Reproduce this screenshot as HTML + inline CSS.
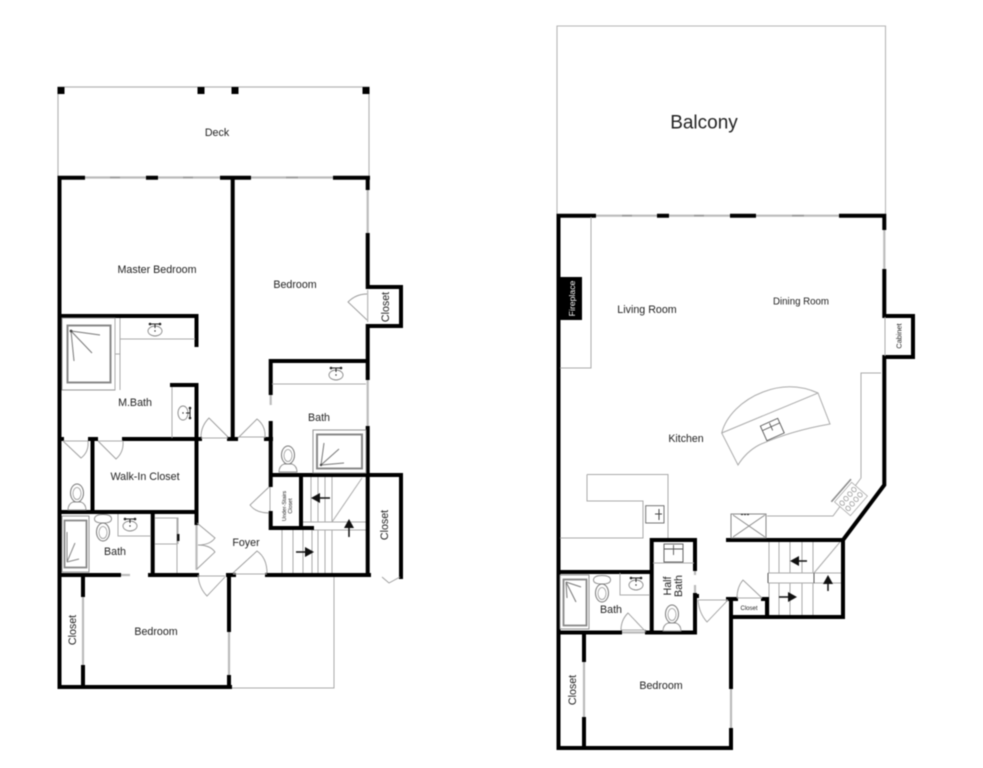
<!DOCTYPE html>
<html>
<head>
<meta charset="utf-8">
<style>
html,body{margin:0;padding:0;background:#fff;width:983px;height:768px;overflow:hidden}
svg{display:block;filter:blur(.5px)}
text{font-family:"Liberation Sans",sans-serif;fill:#222;text-anchor:middle;dominant-baseline:central}
.w{stroke:#000;stroke-width:4;fill:none;stroke-linecap:square}
.g{stroke:#aaa;stroke-width:1;fill:none}
.gw{stroke:#bbb;stroke-width:2.2;fill:none}
.d{stroke:#999;stroke-width:.9;fill:none}
.a{stroke:#111;stroke-width:1.5;fill:none}
.f{stroke:#888;stroke-width:.9;fill:#fff}
</style>
</head>
<body>
<svg width="983" height="768" viewBox="0 0 983 768" xmlns="http://www.w3.org/2000/svg">
<defs>
<g id="sink"><ellipse cx="0" cy="0" rx="7" ry="5" class="f"/><circle cx="0" cy="0" r=".7" fill="#222"/><path d="M-5 -7H5M0 -7V-3" stroke="#222" stroke-width="1"/><circle cx="-5" cy="-7" r="1.3" fill="#222"/><circle cx="5" cy="-7" r="1.3" fill="#222"/></g>
<g id="toiletU"><ellipse cx="0" cy="-4" rx="6.500" ry="9" fill="#fff" stroke="#777" stroke-width="1"/><ellipse cx="0" cy="-3.500" rx="4" ry="6" fill="none" stroke="#999" stroke-width=".8"/><path d="M-9 13Q-9 7 -4 5H4Q9 7 9 13Z" fill="#fff" stroke="#888" stroke-width=".9"/></g>
<g id="toiletD"><path d="M-8.500 -11Q-8.500 -15.500 0 -15.500Q8.500 -15.500 8.500 -11Q8.500 -7 0 -7Q-8.500 -7 -8.500 -11Z" fill="#fff" stroke="#888" stroke-width=".9"/><ellipse cx="0" cy="2" rx="6.500" ry="9" fill="#fff" stroke="#777" stroke-width="1"/><ellipse cx="0" cy="2.500" rx="4" ry="6" fill="none" stroke="#999" stroke-width=".8"/></g>
</defs>

<!-- LEFT PLAN: deck -->
<path d="M58 177V87H369V177" stroke="#b5b5b5" stroke-width="1.2" fill="none"/>
<rect x="57.500" y="87" width="7" height="7"/><rect x="197.500" y="87" width="7" height="7"/><rect x="231.500" y="87" width="7" height="7"/><rect x="362.500" y="87" width="7" height="7"/>
<!-- sliding doors -->
<path d="M83 177.500H148M156 177.500H220M249 177.500H335" class="gw"/>
<path d="M110 177.500H120M183 177.500H193M286 177.500H298" stroke="#999" stroke-width="1.600"/>
<!-- windows -->
<path d="M367.700 188V235M229 630V677M196.500 523V570M83 595V667M120 575H130M270.700 393V405M367.700 378V428" class="gw"/>
<path class="g" d="M367.700 290V322M270 485V513"/>
<!-- stairs left -->
<path d="M302 476V522M311 476V522M318 476V522M325 476V522M332 476V522M282 530V574M293 530V574M303 530V574M312 530V574M318 530V574M325 530V574M332 530V574M302 522H367M313 530H367M332 522L362 478" class="g"/>
<!-- porch outline -->
<path d="M231 688H334V575" class="g"/>
<!-- walls -->
<path class="w" d="M59.500 177.700H83M148 177.700H156M222 177.700H249M335 177.700H368M59.500 177.700V687M232.700 177.700V439M367.700 177.700V188M367.700 235V287M367.700 326V378M367.700 428V475M367.700 475V575M367.700 287H401V326H367.700"/>
<path class="w" d="M59.500 316H196.500V345M172 385H196.500V523M59.500 439H62M90 439H96M124 439H200M229 439H236M266 439H271M92.500 439V512M59.500 512H196.500M59.500 575H119M150 575H197M152.700 512V575M229 575V630M229 677V687M59.500 687H230M267 575H369M83 575V595M83 667V687M228 575H234"/>
<path class="w" d="M270.700 361H367M270.700 361V393M270.700 423V475M271 475H401M401 475V577M270.700 513V528M270.700 475V485M301 475V528M271 528H312"/>
<!-- left doors -->
<path class="d" d="M63 441L81 458Q89 452 88 441M98 441L116 459Q124 452 123 441M201 437Q201 426 209 418L228 437M238 438L257 419Q266 426 265 438M367 320L348 302Q356 294 367 294M269 487L250 505Q256 513 269 513M233 573L257 551Q267 558 267 573M198 575Q199 588 207 596L225 577M197 523L215 538Q210 545 198 545Q210 545 215 552L197 569M382 577L389 583L400 577"/>
<path class="g" d="M63 441H88M98 441H123M201 438H228M238 437H265M233 574H267M199 576H225"/>
<!-- left fixtures -->
<rect x="62" y="318" width="53" height="72" class="f"/>
<rect x="67.500" y="325.500" width="43" height="57" fill="none" stroke="#888" stroke-width="2"/>
<path d="M71 331L100 335M71 331L92 353M71 331L74 361" stroke="#777" stroke-width="1" fill="none"/><circle cx="71" cy="331" r="1.400" fill="#444"/>
<path class="g" d="M115 318V390M120 318V390M120 339H195M115 354H120M172 387V438"/>
<use href="#sink" x="155" y="331"/>
<use href="#sink" transform="translate(183,413) rotate(90)"/>
<use href="#sink" x="336" y="375"/>
<path class="g" d="M272 384H366"/>
<rect x="313" y="430" width="53" height="43" class="f"/>
<rect x="317" y="434.500" width="45" height="34" fill="none" stroke="#888" stroke-width="2"/>
<path d="M321 465L344 463M321 465L339 449M321 465L324 443" stroke="#777" stroke-width="1" fill="none"/><circle cx="321" cy="465" r="1.200" fill="#444"/>
<use href="#toiletU" x="288" y="459"/>
<use href="#toiletU" x="77" y="497"/>
<rect x="62" y="516" width="27" height="56" class="f"/>
<rect x="64.500" y="520.500" width="22" height="47" fill="none" stroke="#888" stroke-width="1.800"/>
<path d="M67 562L79 559M67 562L75 543M67 562L67 532" stroke="#888" stroke-width="1" fill="none"/>
<use href="#toiletD" x="103" y="530"/>
<path class="g" d="M118 514V536H151"/>
<use href="#sink" x="130" y="526"/>
<path class="g" d="M155 518H178V544M177 518V573M155 544H177"/><rect x="177" y="534" width="2.500" height="7" fill="#111"/>
<!-- left arrows -->
<path class="a" d="M318 498H330"/><path d="M311 498L320 493V503Z" fill="#111"/>
<path class="a" d="M349 527V537"/><path d="M349 519L344 528H354Z" fill="#111"/>
<path class="a" d="M296 552H308"/><path d="M314 552L305 547V557Z" fill="#111"/>

<!-- left labels -->
<text x="217" y="132" dy="1" font-size="10.700">Deck</text>
<text x="157" y="269" dy="1" font-size="10.700">Master Bedroom</text>
<text x="295" y="284" dy="1" font-size="10.700">Bedroom</text>
<text transform="translate(385,307) rotate(-90)" dy="1" font-size="10.700">Closet</text>
<text x="135" y="402" dy="1" font-size="10.700">M.Bath</text>
<text x="145" y="476" dy="1" font-size="10.700">Walk-In Closet</text>
<text x="319" y="417" dy="1" font-size="10.700">Bath</text>
<text transform="translate(284,506) rotate(-90)" dy="1" font-size="5.400">Under-Stairs</text>
<text transform="translate(290,506) rotate(-90)" dy="1" font-size="5.400">Closet</text>
<text x="246" y="542" dy="1" font-size="10.700">Foyer</text>
<text transform="translate(384,525) rotate(-90)" dy="1" font-size="10.700">Closet</text>
<text x="115" y="551" dy="1" font-size="10.700">Bath</text>
<text transform="translate(72,630) rotate(-90)" dy="1" font-size="10.700">Closet</text>
<text x="156" y="631" dy="1" font-size="10.700">Bedroom</text>

<!-- RIGHT PLAN -->
<path d="M557 215V26H885.500V215" stroke="#b5b5b5" stroke-width="1.100" fill="none"/>
<path d="M594 215.700H659M667 215.700H732M754 215.700H841" class="gw"/>
<path d="M622 215.700H632M694 215.700H704M792 215.700H804" stroke="#999" stroke-width="1.600"/>
<path d="M884.300 228V271M731 687V730M584 660V719M620 632.500H647M695 569V575M695 585V593" class="gw"/>
<!-- stairs -->
<path class="g" d="M769 541V573M779 541V573M790 541V573M802 541V573M813 541V573M769 583V615M779 583V615M790 583V615M802 583V615M813 583V615M768 573H841M768 583H841M814 573L840 542"/>
<path d="M768 573V583M814 573V583" stroke="#555" stroke-width="1"/>
<!-- walls -->
<path class="w" d="M558.500 215.700H594M659 215.700H667M732 215.700H754M841 215.700H884.300V228M884.300 271V316M884.300 357V485L843 540M728 540H843M843 540V617M731 617H843M731 600V687M731 730V748M558.500 748H731M558.500 215.700V748M558.500 572H651.700M651.700 540V632.500M651.700 540H695V569M695 595V632.500M558.500 632.500H620M647 632.500H695M584 632.500V660M584 719V748M884.300 316H913V357H884.300M728 599H736M763 599H767V617"/>
<path class="w" d="M695 596H697"/>
<!-- fireplace -->
<rect x="560" y="277" width="22" height="43" fill="#000"/>
<text transform="translate(571,298.500) rotate(-90)" dy="1" font-size="8.700" style="fill:#fff">Fireplace</text>
<path class="g" d="M591 217V368H560"/>
<path class="g" d="M885 317V356"/>
<!-- kitchen -->
<path class="g" d="M587 474.500H668V538M587 474.500V501H643V538H560"/>
<rect x="645.700" y="505.700" width="18.300" height="17.300" fill="#fff" stroke="#666" stroke-width=".9"/>
<path d="M655 514H662M659 509V520" stroke="#444" stroke-width="1"/>
<path class="g" d="M721.700 433L818 393L830 424Q790 431 759 445Q746 452 738 465L721.700 433C726 416 742 400 763 392C781 385 800 385 818 393"/>
<g transform="translate(772.300,429.500) rotate(-24)"><rect x="-9.500" y="-8" width="19" height="16" fill="#fff" stroke="#555" stroke-width=".9"/><path d="M-9.500 -3H9.500M0 -7V1" stroke="#555" stroke-width=".9"/></g>
<path class="g" d="M881 373H861V478L833 516H767"/>
<g transform="translate(851,499) rotate(41)"><rect x="-10.500" y="-13" width="21" height="26" fill="#fff" stroke="#aaa" stroke-width=".8"/><path d="M-13 -15V15" stroke="#888" stroke-width="1.500"/><g fill="none" stroke="#999" stroke-width=".8"><ellipse cx="-4" cy="-9" rx="2.500" ry="2"/><ellipse cx="4" cy="-9" rx="2.500" ry="2"/><ellipse cx="-4" cy="-3" rx="2.500" ry="2"/><ellipse cx="4" cy="-3" rx="2.500" ry="2"/><ellipse cx="-4" cy="3" rx="2.500" ry="2"/><ellipse cx="4" cy="3" rx="2.500" ry="2"/><ellipse cx="-4" cy="9" rx="2.500" ry="2"/><ellipse cx="4" cy="9" rx="2.500" ry="2"/></g></g>
<rect x="731" y="514" width="35" height="24" fill="#fff" stroke="#888" stroke-width="1"/>
<path d="M733 515L765 537M765 515L733 537" stroke="#888" stroke-width=".9"/>
<path d="M741 514.500H749" stroke="#333" stroke-width="1.200" stroke-dasharray="2 1"/>
<!-- right doors -->
<path class="d" d="M698 600Q699 613 707 622L728 600M737 598Q737 587 743 580L762 598M621 630Q621 620 628 613L646 632"/>
<path class="g" d="M698 600H728M737 598H762M621 630H646"/>
<!-- baths -->
<rect x="560" y="575" width="29" height="54" class="f"/>
<rect x="563.500" y="579.500" width="23" height="46" fill="none" stroke="#888" stroke-width="1.800"/>
<path d="M566 582L581 587M566 582L576 602M566 582L567 598" stroke="#777" stroke-width="1" fill="none"/>
<use href="#toiletD" x="602" y="591"/>
<path class="g" d="M620 573V595H650"/>
<use href="#sink" x="636" y="585"/>
<path class="g" d="M653 563H694"/>
<rect x="664" y="544" width="19" height="18" fill="#fff" stroke="#555" stroke-width=".9"/>
<path d="M664 549H683M673.500 545V555" stroke="#555" stroke-width=".9"/>
<use href="#toiletU" x="672" y="618"/>
<!-- arrows -->
<path class="a" d="M797 561H807"/><path d="M790 561L799 556V566Z" fill="#111"/>
<path class="a" d="M828 584V591"/><path d="M828 575L823 584H833Z" fill="#111"/>
<path class="a" d="M779 597H790"/><path d="M797 597L788 592V602Z" fill="#111"/>

<!-- right labels -->
<text x="704" y="122" dy="1" font-size="19">Balcony</text>
<text x="647" y="309" dy="1" font-size="10.700">Living Room</text>
<text x="801" y="301" dy="1" font-size="9.700">Dining Room</text>
<text transform="translate(898,336) rotate(-90)" dy="1" font-size="7.300">Cabinet</text>
<text x="686" y="438" dy="1" font-size="10.600">Kitchen</text>
<text transform="translate(667,586) rotate(-90)" dy="1" font-size="10.700">Half</text>
<text transform="translate(678,586) rotate(-90)" dy="1" font-size="10.700">Bath</text>
<text x="611" y="609" dy="1" font-size="10.700">Bath</text>
<text x="749" y="608" dy="1" font-size="6">Closet</text>
<text transform="translate(572,690) rotate(-90)" dy="1" font-size="10.700">Closet</text>
<text x="661" y="685" dy="1" font-size="10.700">Bedroom</text>
</svg>
</body>
</html>
